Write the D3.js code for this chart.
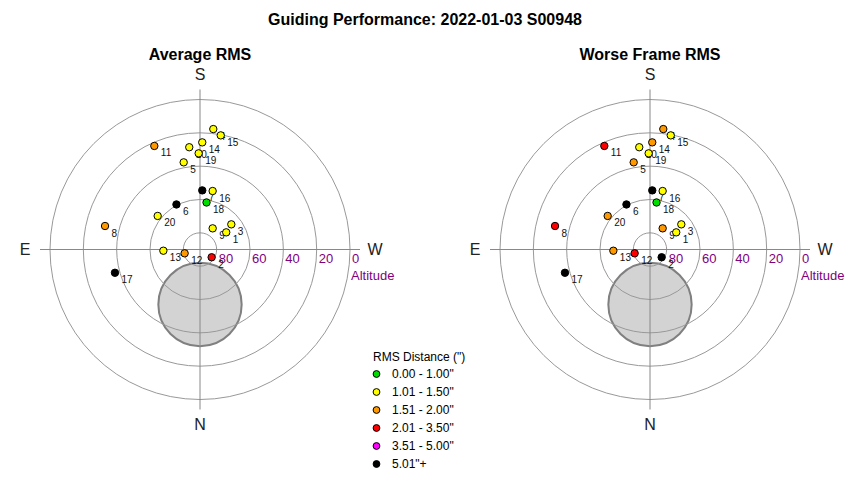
<!DOCTYPE html>
<html>
<head>
<meta charset="utf-8">
<script src="https://cdn.jsdelivr.net/npm/d3@7"></script>
<style>
  body { margin: 0; background: #fff; }
  text { font-family: "Liberation Sans", Arial, sans-serif; }
</style>
</head>
<body>
<div id="chart"></div>
<script>
// guiding performance: two alt/az polar plots of the guide star positions
const pointIds = [1, 2, 3, 4, 5, 6, 7, 8, 9, 10, 11, 12, 13, 14, 15, 16, 17, 18, 19, 20];
const altitudes = [71.2, 81.6, 65.9, 17.3, 36.8, 59.5, 54.5, 31.3, 75.2, 28.3,
                   22.1, 80.5, 68.0, 25.7, 20.4, 54.1, 37.1, 61.5, 32.3, 57.6];
const azimuths = [236.8, 303.7, 231.2, 186.3, 169.4, 152.4, 182.2, 103.9, 210.9, 174.0,
                  156.2, 76.1, 88.1, 181.2, 190.3, 192.2, 74.7, 187.9, 179.2, 128.4];
// index into rmsBins for each point
const avgRmsBin = [1, 3, 1, 1, 1, 5, 5, 2, 1, 1, 2, 2, 1, 1, 1, 1, 5, 0, 1, 1];
const worstRmsBin = [1, 5, 1, 2, 2, 5, 5, 3, 2, 1, 3, 3, 2, 2, 1, 1, 5, 0, 1, 2];

const rmsBins = ['0.00 - 1.00"', '1.01 - 1.50"', '1.51 - 2.00"', '2.01 - 3.50"', '3.51 - 5.00"', '5.01"+'];
const rmsColors = ['#00dd00', '#ffff00', '#ff9900', '#ff0000', '#ff00ff', '#000000'];
const altTicks = [80, 60, 40, 20, 0];
const directions = [{ name: 'N', az: 0 }, { name: 'E', az: 90 }, { name: 'S', az: 180 }, { name: 'W', az: 270 }];
// shaded zone below the zenith
const zoneAlt = 57, zoneAz = 0, zoneRadius = 25;

const svgWidth = 850, svgHeight = 480;
const plotRadius = 150;
const centerY = 249.5;
const panels = [
    { title: 'Average RMS', cx: 200, bins: avgRmsBin },
    { title: 'Worse Frame RMS', cx: 650, bins: worstRmsBin }
];

const svg = d3.select('#chart').append('svg')
    .attr('width', svgWidth)
    .attr('height', svgHeight);

svg.append('rect').attr('width', svgWidth).attr('height', svgHeight).attr('fill', '#fff');

svg.append('text')
    .attr('x', 425).attr('y', 25)
    .attr('text-anchor', 'middle')
    .attr('font-size', 16).attr('font-weight', 'bold')
    .text('Guiding Performance: 2022-01-03 S00948');

const rScale = d3.scaleLinear().domain([90, 0]).range([0, plotRadius]);
const color = d3.scaleOrdinal().domain(d3.range(rmsBins.length)).range(rmsColors);

const points = pointIds.map((id, i) => ({ id, alt: altitudes[i], az: azimuths[i] }));

function project(alt, az) {
    const r = rScale(alt);
    const a = az * Math.PI / 180;
    return [-r * Math.sin(a), r * Math.cos(a)];
}

panels.forEach(p => {
    const g = svg.append('g').attr('transform', `translate(${p.cx},${centerY})`);

    svg.append('text')
        .attr('x', p.cx).attr('y', 60)
        .attr('text-anchor', 'middle')
        .attr('font-size', 16).attr('font-weight', 'bold')
        .text(p.title);

    const zc = project(zoneAlt, zoneAz);
    g.append('circle')
        .attr('cx', zc[0]).attr('cy', zc[1])
        .attr('r', rScale(90 - zoneRadius))
        .attr('fill', '#d3d3d3')
        .attr('stroke', '#808080')
        .attr('stroke-width', 2);

    g.selectAll('.ring')
        .data(altTicks)
        .enter()
        .append('circle')
        .attr('class', 'ring')
        .attr('r', d => rScale(d))
        .attr('fill', 'none')
        .attr('stroke', '#999')
        .attr('stroke-width', 1);

    g.append('line').attr('x1', 0).attr('x2', 0).attr('y1', -plotRadius - 10).attr('y2', plotRadius + 10)
        .attr('stroke', '#888');
    g.append('line').attr('y1', 0).attr('y2', 0).attr('x1', -plotRadius - 10).attr('x2', plotRadius + 10)
        .attr('stroke', '#888');

    g.selectAll('.altlabel')
        .data(altTicks)
        .enter()
        .append('text')
        .attr('class', 'altlabel')
        .attr('x', d => rScale(d) + 2)
        .attr('y', 13)
        .attr('font-size', 13)
        .attr('fill', '#800080')
        .text(d => d);

    g.append('text')
        .attr('x', plotRadius + 1).attr('y', 30)
        .attr('font-size', 13)
        .attr('fill', '#800080')
        .text('Altitude');

    g.selectAll('.dir')
        .data(directions)
        .enter()
        .append('text')
        .attr('class', 'dir')
        .attr('x', d => project(-15, d.az)[0] * 175 / rScale(-15))
        .attr('y', d => project(-15, d.az)[1] * 175 / rScale(-15))
        .attr('dy', '0.36em')
        .attr('text-anchor', 'middle')
        .attr('font-size', 16)
        .attr('fill', '#222')
        .text(d => d.name);

    // labels first so later markers can sit on top of them
    g.selectAll('.plabel')
        .data(points)
        .enter()
        .append('text')
        .attr('class', 'plabel')
        .attr('x', d => project(d.alt, d.az)[0] + 6.5)
        .attr('y', d => project(d.alt, d.az)[1] + 10.5)
        .attr('font-size', 10)
        .attr('fill', '#111')
        .text(d => d.id);

    g.selectAll('.pt')
        .data(points)
        .enter()
        .append('circle')
        .attr('class', 'pt')
        .attr('cx', d => project(d.alt, d.az)[0])
        .attr('cy', d => project(d.alt, d.az)[1])
        .attr('r', 3.7)
        .attr('fill', (d, i) => color(p.bins[i]))
        .attr('stroke', '#000')
        .attr('stroke-width', 1);
});

// legend
const legend = svg.append('g').attr('transform', 'translate(373,357)');
legend.append('text')
    .attr('x', 0).attr('y', 4)
    .attr('font-size', 12)
    .text('RMS Distance (")');

const items = legend.selectAll('.item')
    .data(rmsBins)
    .enter()
    .append('g')
    .attr('class', 'item')
    .attr('transform', (d, i) => `translate(0,${17 + i * 18})`);
items.append('circle')
    .attr('cx', 3.5).attr('cy', 0)
    .attr('r', 3.4)
    .attr('fill', (d, i) => color(i))
    .attr('stroke', '#000');
items.append('text')
    .attr('x', 19).attr('y', 4)
    .attr('font-size', 12)
    .text(d => d);
</script>
</body>
</html>
